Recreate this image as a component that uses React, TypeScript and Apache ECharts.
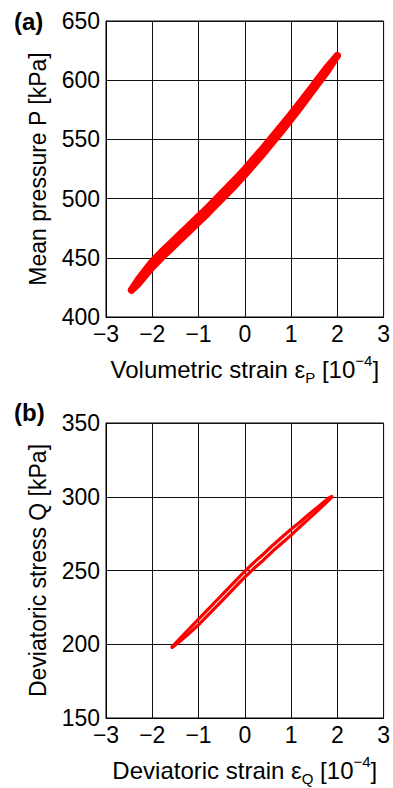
import React, { useEffect, useRef } from "react";
import * as echarts from "echarts";

const X_TICKS_MIN = -3;
const X_TICKS_MAX = 3;

// Panel (a): volumetric strain [1e-4] vs mean pressure P [kPa]
const X_TOP = [-2.45, -2.3, -2.15, -2.0, -1.8, -1.6, -1.4, -1.2, -1.0, -0.8, -0.6, -0.4, -0.2, 0, 0.2, 0.4, 0.6, 0.8, 1.0, 1.2, 1.4, 1.6, 1.8, 2.0];
const P_UPPER = [423, 432, 439.5, 447, 455, 462.5, 470, 477.5, 485, 492.5, 500.5, 508.5, 516.5, 525, 534, 543, 552.5, 562, 571.5, 581.5, 591.5, 602, 612, 621];
const P_LOWER = [422.5, 428, 435, 442, 450, 457.5, 465, 472.5, 480, 487.5, 495.5, 503.5, 511.5, 520, 529, 538, 547.5, 557, 567, 577, 587.5, 598, 608.5, 620.5];

// Panel (b): deviatoric strain [1e-4] vs deviatoric stress Q [kPa]
const X_BOT = [-1.57, -1.4, -1.2, -1.0, -0.8, -0.6, -0.4, -0.2, 0, 0.2, 0.4, 0.6, 0.8, 1.0, 1.2, 1.4, 1.6, 1.8, 1.88];
const Q_UPPER = [198.3, 204, 210.5, 217, 223.5, 230, 236.5, 243, 249.5, 255.5, 261, 267, 272.5, 278, 283, 288.5, 293.5, 298.8, 300.2];
const Q_LOWER = [197.8, 202, 207.5, 213.2, 219.5, 226, 232.5, 239, 245.5, 251.5, 257, 263, 268.5, 274, 279.8, 285.5, 291.3, 297.2, 299.8];

const FONT = '"Liberation Sans", Arial, Helvetica, sans-serif';

const zip = (xs: number[], ys: number[]) => xs.map((x, i) => [x, ys[i]]);
const fmt = (v: number) => (v < 0 ? "\u2212" + Math.abs(v) : String(v));

export default function App() {
  const ref = useRef<HTMLDivElement>(null);
  useEffect(() => {
    if (!ref.current) return;
    const chart = echarts.init(ref.current, undefined, { renderer: "svg" });
    const gridLine = { show: true, lineStyle: { color: "#111", width: 1 } };
    const labelStyle = { color: "#000", fontSize: 23, fontFamily: FONT };
    const richName = {
      a: { fontSize: 24, fontFamily: FONT, color: "#000", lineHeight: 32 },
      sub: { fontSize: 15, fontFamily: FONT, color: "#000", verticalAlign: "bottom", lineHeight: 15 },
      sup: { fontSize: 15, fontFamily: FONT, color: "#000", verticalAlign: "top", lineHeight: 15 },
    };
    const xAxisBase = (gridIndex: number, name: string) => ({
      type: "value",
      gridIndex,
      min: X_TICKS_MIN,
      max: X_TICKS_MAX,
      interval: 1,
      axisLine: { show: true, onZero: false, lineStyle: { color: "#000", width: 1 } },
      axisTick: { show: false },
      axisLabel: { ...labelStyle, margin: 5, formatter: fmt },
      splitLine: gridLine,
      name,
      nameLocation: "middle",
      nameGap: 36,
      nameTextStyle: { rich: richName },
    });
    const yAxisBase = (gridIndex: number, min: number, max: number, name: string) => ({
      type: "value",
      gridIndex,
      min,
      max,
      interval: 50,
      axisLine: { show: true, onZero: false, lineStyle: { color: "#000", width: 1 } },
      axisTick: { show: false },
      axisLabel: { ...labelStyle, margin: 6, formatter: fmt },
      splitLine: gridLine,
      name,
      nameLocation: "middle",
      nameRotate: 90,
      nameGap: 57,
      nameTextStyle: { color: "#000", fontSize: 23, fontFamily: FONT },
    });
    const lineSeries = (xi: number, data: number[][], width: number) => ({
      type: "line",
      xAxisIndex: xi,
      yAxisIndex: xi,
      data,
      showSymbol: false,
      symbol: "none",
      lineStyle: { color: "#ff0000", width, join: "round", cap: "round" },
      z: 5,
    });
    chart.setOption({
      animation: false,
      backgroundColor: "#fff",
      grid: [
        { left: 106, top: 21, width: 280, height: 296, show: true, borderColor: "#000", borderWidth: 1 },
        { left: 106, top: 423, width: 280, height: 295, show: true, borderColor: "#000", borderWidth: 1 },
      ],
      xAxis: [
        xAxisBase(0, "{a|Volumetric strain \u03b5}{sub|P}{a| [10}{sup|\u22124}{a|]}"),
        xAxisBase(1, "{a|Deviatoric strain \u03b5}{sub|Q}{a| [10}{sup|\u22124}{a|]}"),
      ],
      yAxis: [
        yAxisBase(0, 400, 650, "Mean pressure P [kPa]"),
        yAxisBase(1, 150, 350, "Deviatoric stress Q [kPa]"),
      ],
      series: [
        lineSeries(0, zip(X_TOP, P_UPPER), 7),
        lineSeries(0, zip(X_TOP, P_LOWER), 7),
        lineSeries(1, zip(X_BOT, Q_UPPER), 3.2),
        lineSeries(1, zip(X_BOT, Q_LOWER), 3.2),
      ],
      graphic: [
        { type: "text", left: 14, top: 9, style: { text: "(a)", font: `bold 24px ${FONT}`, fill: "#000" } },
        { type: "text", left: 14, top: 400, style: { text: "(b)", font: `bold 24px ${FONT}`, fill: "#000" } },
      ],
    });
    return () => chart.dispose();
  }, []);
  return <div ref={ref} style={{ position: "fixed", left: 0, top: 0, width: 393, height: 788 }} />;
}
